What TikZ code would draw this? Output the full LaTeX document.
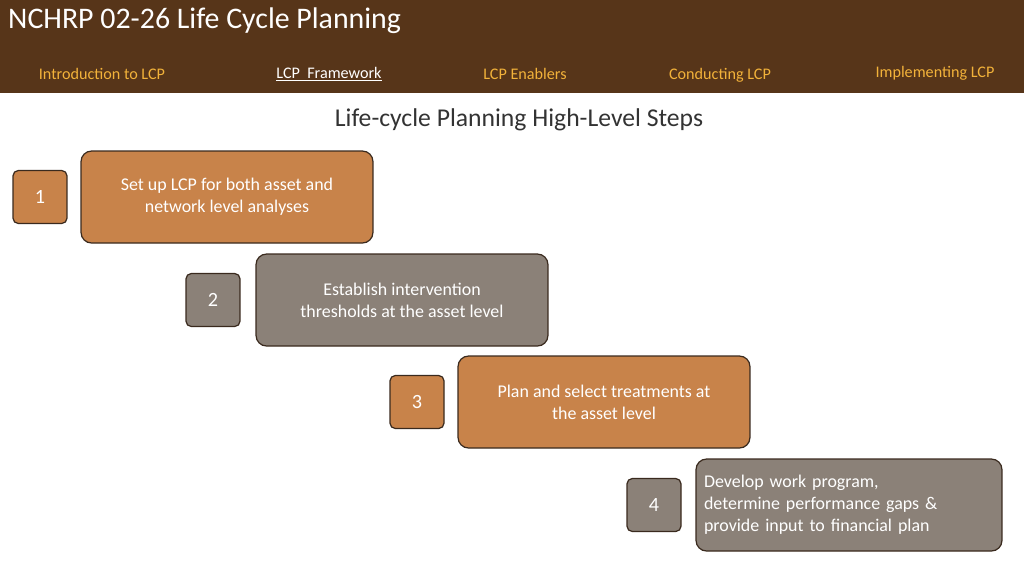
\documentclass[tikz,border=0pt]{standalone}
\usepackage{fontspec}
\setmainfont{Carlito}
\definecolor{hdr}{HTML}{573519}
\definecolor{navc}{HTML}{F2B23A}
\definecolor{stepor}{HTML}{C8834A}
\definecolor{stepgy}{HTML}{8B8178}
\definecolor{edgec}{HTML}{3A2A1E}
\tikzset{
  stepbox/.style={draw=edgec, rounded corners=6pt, line width=0.7pt, text=white,
    font=\fontsize{10.2}{12.6}\selectfont, align=center, inner sep=0pt},
  numbox/.style={draw=edgec, rounded corners=3pt, line width=0.7pt, text=white,
    font=\fontsize{11.5}{13}\selectfont, minimum width=1.08cm, minimum height=1.06cm},
  navitem/.style={text=navc, font=\fontsize{9.2}{11}\selectfont, anchor=base}
}
\begin{document}
\begin{tikzpicture}[x=0.02cm,y=-0.02cm]
  \useasboundingbox (0,0) rectangle (1024,576);
  \fill[hdr] (0,0) rectangle (1024,93);
  \node[text=white, anchor=west, font=\fontsize{17}{20}\selectfont] (title) at (2,21) {NCHRP 02-26 Life Cycle Planning};
  \node[navitem] (nav1) at (102,79) {Introduction to LCP};
  \node[navitem, text=white] (nav2) at (329,78) {\underline{LCP\ \ Framework}};
  \node[navitem] (nav3) at (525,79) {LCP Enablers};
  \node[navitem] (nav4) at (720,79) {Conducting LCP};
  \node[navitem] (nav5) at (935,77) {Implementing LCP};
  \node[text=black!80, font=\fontsize{14.6}{17}\selectfont] (head) at (519,120) {Life-cycle Planning High-Level Steps};
  % steps
  \node[stepbox, fill=stepor, minimum width=5.84cm, minimum height=1.84cm] (s1) at (227,197) {Set up LCP for both asset and\\network level analyses};
  \node[stepbox, fill=stepgy, minimum width=5.84cm, minimum height=1.84cm] (s2) at (402,300) {Establish intervention\\thresholds at the asset level};
  \node[stepbox, fill=stepor, minimum width=5.84cm, minimum height=1.84cm] (s3) at (604,402) {Plan and select treatments at\\the asset level};
  \node[stepbox, fill=stepgy, minimum width=6.12cm, minimum height=1.84cm, align=left, text width=5.8cm, inner sep=0pt] (s4) at (849,505) {Develop work program,\\determine performance gaps \&\\provide input to financial plan};
  % numbers
  \node[numbox, fill=stepor] (n1) at (40,197) {1};
  \node[numbox, fill=stepgy] (n2) at (213,300) {2};
  \node[numbox, fill=stepor] (n3) at (417,402) {3};
  \node[numbox, fill=stepgy] (n4) at (654,505) {4};
\end{tikzpicture}
\end{document}
